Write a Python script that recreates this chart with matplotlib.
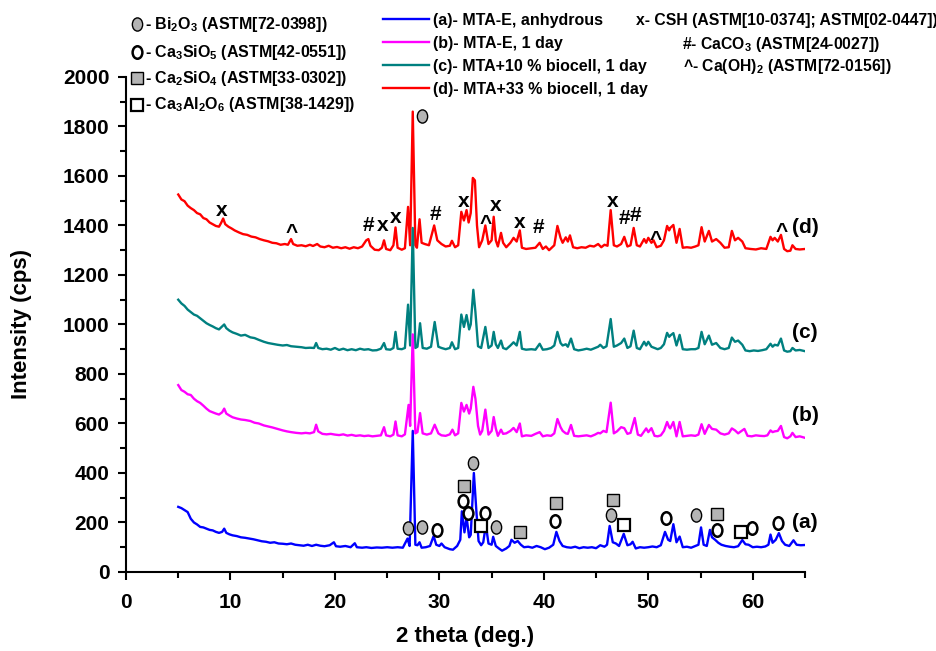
import matplotlib.pyplot as plt
import numpy as np
from matplotlib.lines import Line2D
from matplotlib.path import Path
from matplotlib.transforms import Affine2D

plt.rcParams['font.family'] = ['Liberation Sans', 'DejaVu Sans']
plt.rcParams['font.weight'] = 'bold'
plt.rcParams['mathtext.fontset'] = 'custom'
plt.rcParams['mathtext.rm'] = 'Liberation Sans:bold'
plt.rcParams['mathtext.default'] = 'rm'

# (2 theta, counts)
trace_d = [(5.0, 1525), (5.3, 1505), (5.6, 1498), (5.9, 1480), (6.2, 1470), (6.5, 1462), (6.8, 1450), (7.1, 1445),
           (7.4, 1430), (7.7, 1425), (8.0, 1412), (8.3, 1405), (8.6, 1398), (8.9, 1395), (9.1, 1410), (9.3, 1428),
           (9.5, 1405), (9.8, 1395), (10.1, 1388), (10.4, 1380), (10.8, 1372), (11.2, 1365), (11.6, 1362), (12.0, 1355),
           (12.4, 1352), (12.8, 1345), (13.2, 1340), (13.6, 1336), (14.0, 1330), (14.4, 1328), (14.8, 1322), (15.2, 1325),
           (15.5, 1322), (15.8, 1345), (16.0, 1325), (16.4, 1318), (16.8, 1320), (17.2, 1316), (17.6, 1322), (17.9, 1317),
           (18.3, 1325), (18.6, 1315), (19.0, 1312), (19.4, 1318), (19.8, 1310), (20.2, 1313), (20.6, 1308), (21.0, 1312),
           (21.4, 1306), (21.8, 1312), (22.2, 1308), (22.6, 1315), (23.0, 1340), (23.2, 1345), (23.4, 1318), (23.8, 1302),
           (24.2, 1300), (24.5, 1310), (24.7, 1340), (24.9, 1305), (25.3, 1300), (25.6, 1320), (25.8, 1392), (26.0, 1310),
           (26.4, 1302), (26.7, 1308), (27.0, 1475), (27.2, 1320), (27.45, 1860), (27.7, 1320), (27.85, 1310), (28.1, 1425),
           (28.3, 1330), (28.6, 1325), (29.0, 1320), (29.5, 1400), (29.8, 1340), (30.2, 1325), (30.6, 1315), (31.0, 1318),
           (31.2, 1338), (31.5, 1312), (31.8, 1320), (32.1, 1455), (32.35, 1420), (32.6, 1462), (32.8, 1412), (33.0, 1450),
           (33.2, 1592), (33.4, 1582), (33.6, 1400), (33.8, 1312), (34.1, 1340), (34.4, 1400), (34.7, 1325), (35.0, 1340),
           (35.2, 1435), (35.4, 1340), (35.6, 1315), (35.9, 1370), (36.1, 1330), (36.4, 1312), (36.8, 1330), (37.1, 1350),
           (37.4, 1335), (37.7, 1380), (37.9, 1310), (38.3, 1305), (38.8, 1308), (39.2, 1310), (39.6, 1330), (39.9, 1305),
           (40.2, 1315), (40.5, 1300), (41.0, 1320), (41.3, 1398), (41.6, 1350), (41.8, 1330), (42.1, 1352), (42.3, 1335),
           (42.5, 1360), (42.8, 1312), (43.2, 1308), (43.6, 1312), (44.0, 1310), (44.4, 1318), (44.8, 1315), (45.2, 1325),
           (45.5, 1312), (45.8, 1322), (46.1, 1318), (46.4, 1462), (46.7, 1320), (47.0, 1315), (47.4, 1325), (47.7, 1354),
           (48.0, 1315), (48.3, 1320), (48.6, 1390), (48.9, 1320), (49.2, 1315), (49.6, 1345), (49.8, 1330), (50.0, 1350),
           (50.3, 1330), (50.5, 1340), (50.8, 1312), (51.2, 1318), (51.5, 1340), (51.8, 1398), (52.0, 1380), (52.1, 1390),
           (52.4, 1402), (52.7, 1330), (53.0, 1386), (53.3, 1310), (53.7, 1312), (54.1, 1310), (54.5, 1315), (54.8, 1320),
           (55.1, 1393), (55.4, 1335), (55.8, 1378), (56.1, 1335), (56.5, 1345), (56.9, 1330), (57.3, 1310), (57.7, 1312),
           (58.0, 1378), (58.3, 1340), (58.6, 1350), (59.0, 1335), (59.3, 1308), (59.8, 1305), (60.3, 1303), (60.8, 1308),
           (61.3, 1305), (61.7, 1354), (61.9, 1340), (62.1, 1350), (62.4, 1335), (62.7, 1362), (63.0, 1305), (63.3, 1296),
           (63.6, 1298), (63.8, 1320), (64.1, 1305), (64.5, 1303), (65.0, 1305)]

trace_c = [(5.0, 1100), (5.3, 1085), (5.6, 1075), (5.9, 1060), (6.2, 1050), (6.5, 1040), (6.8, 1035), (7.1, 1025),
           (7.4, 1015), (7.7, 1005), (8.0, 998), (8.3, 992), (8.6, 985), (8.9, 980), (9.2, 992), (9.4, 1000), (9.6, 985),
           (9.9, 975), (10.2, 968), (10.6, 962), (11.0, 955), (11.4, 958), (11.9, 948), (12.3, 945), (12.7, 938),
           (13.2, 930), (13.6, 925), (14.0, 922), (14.5, 918), (15.0, 915), (15.4, 917), (15.8, 912), (16.3, 910),
           (16.8, 908), (17.2, 905), (17.6, 906), (18.0, 905), (18.2, 925), (18.4, 905), (18.8, 900), (19.2, 902),
           (19.6, 898), (20.0, 905), (20.4, 897), (20.8, 902), (21.2, 896), (21.6, 900), (22.0, 896), (22.4, 902),
           (22.8, 898), (23.2, 900), (23.6, 895), (24.0, 896), (24.4, 902), (24.7, 925), (24.9, 900), (25.3, 898),
           (25.6, 905), (25.8, 970), (26.0, 902), (26.4, 900), (26.7, 905), (27.0, 1080), (27.2, 915), (27.45, 1390),
           (27.7, 905), (27.9, 910), (28.15, 1005), (28.4, 905), (28.8, 902), (29.2, 910), (29.55, 1010), (29.9, 910),
           (30.2, 905), (30.6, 900), (31.0, 905), (31.2, 928), (31.5, 900), (31.8, 905), (32.1, 1040), (32.35, 990),
           (32.6, 1038), (32.85, 980), (33.0, 1000), (33.25, 1140), (33.45, 1050), (33.7, 912), (34.0, 905), (34.4, 990),
           (34.7, 905), (35.0, 915), (35.2, 970), (35.4, 920), (35.6, 905), (35.9, 935), (36.1, 905), (36.4, 900),
           (36.8, 915), (37.1, 928), (37.4, 915), (37.7, 970), (37.9, 902), (38.3, 898), (38.8, 900), (39.2, 898),
           (39.6, 922), (39.9, 898), (40.3, 900), (40.7, 905), (41.0, 915), (41.3, 970), (41.6, 925), (41.8, 915),
           (42.1, 920), (42.3, 910), (42.6, 943), (42.9, 900), (43.3, 895), (43.7, 898), (44.1, 902), (44.5, 898),
           (44.9, 905), (45.2, 910), (45.4, 918), (45.7, 905), (46.0, 912), (46.4, 1022), (46.7, 910), (47.0, 915),
           (47.4, 925), (47.7, 943), (48.0, 905), (48.3, 912), (48.6, 975), (48.9, 905), (49.2, 900), (49.6, 930),
           (49.8, 915), (50.0, 930), (50.3, 910), (50.6, 905), (50.9, 900), (51.2, 905), (51.5, 920), (51.8, 966),
           (52.0, 950), (52.1, 955), (52.4, 965), (52.7, 915), (53.0, 958), (53.3, 900), (53.7, 898), (54.1, 900),
           (54.5, 900), (54.8, 905), (55.1, 970), (55.4, 920), (55.8, 955), (56.1, 918), (56.5, 925), (56.9, 905),
           (57.3, 900), (57.7, 905), (58.0, 947), (58.3, 930), (58.6, 935), (59.0, 918), (59.3, 895), (59.7, 892),
           (60.1, 895), (60.5, 893), (60.9, 896), (61.3, 900), (61.7, 922), (61.9, 910), (62.1, 918), (62.4, 915),
           (62.7, 943), (63.0, 895), (63.3, 890), (63.6, 892), (63.8, 905), (64.1, 895), (64.5, 897), (65.0, 892)]

trace_b = [(5.0, 755), (5.3, 735), (5.6, 728), (5.9, 718), (6.2, 715), (6.5, 700), (6.8, 690), (7.1, 683), (7.4, 672),
           (7.7, 660), (8.0, 650), (8.3, 645), (8.6, 640), (8.9, 636), (9.2, 645), (9.4, 660), (9.6, 640), (9.9, 632),
           (10.2, 625), (10.6, 620), (11.0, 616), (11.4, 614), (11.9, 610), (12.3, 603), (12.7, 600), (13.2, 592),
           (13.6, 588), (14.0, 584), (14.5, 578), (15.0, 572), (15.4, 568), (15.8, 565), (16.3, 562), (16.8, 560),
           (17.2, 562), (17.6, 560), (18.0, 565), (18.2, 595), (18.4, 568), (18.8, 558), (19.2, 556), (19.6, 558),
           (20.0, 555), (20.4, 553), (20.8, 556), (21.2, 551), (21.6, 554), (22.0, 550), (22.4, 552), (22.8, 549),
           (23.2, 551), (23.6, 548), (24.0, 550), (24.4, 552), (24.7, 585), (24.9, 552), (25.3, 548), (25.6, 555),
           (25.8, 608), (26.0, 552), (26.4, 548), (26.7, 556), (27.05, 675), (27.2, 590), (27.45, 960), (27.7, 560),
           (27.9, 565), (28.15, 642), (28.4, 560), (28.8, 555), (29.2, 560), (29.55, 595), (29.9, 560), (30.2, 552),
           (30.6, 550), (31.0, 556), (31.25, 575), (31.5, 552), (31.8, 560), (32.1, 683), (32.35, 648), (32.6, 675),
           (32.85, 640), (33.0, 660), (33.25, 748), (33.45, 700), (33.7, 590), (33.9, 555), (34.1, 570), (34.4, 656),
           (34.7, 555), (35.0, 570), (35.2, 626), (35.4, 580), (35.6, 550), (35.9, 575), (36.1, 558), (36.4, 560),
           (36.8, 570), (37.1, 582), (37.4, 565), (37.7, 600), (37.9, 548), (38.3, 552), (38.8, 550), (39.2, 558),
           (39.6, 565), (39.9, 548), (40.3, 552), (40.7, 550), (41.0, 560), (41.3, 618), (41.6, 585), (41.8, 570),
           (42.1, 560), (42.3, 558), (42.6, 594), (42.9, 550), (43.3, 548), (43.7, 550), (44.1, 552), (44.5, 548),
           (44.9, 555), (45.2, 562), (45.4, 560), (45.7, 570), (46.0, 565), (46.4, 684), (46.7, 560), (47.0, 568),
           (47.4, 585), (47.7, 581), (48.0, 558), (48.3, 562), (48.7, 622), (49.0, 555), (49.3, 550), (49.8, 580),
           (50.0, 565), (50.3, 581), (50.6, 550), (50.9, 548), (51.2, 552), (51.5, 570), (51.8, 606), (52.0, 585),
           (52.1, 580), (52.4, 606), (52.7, 548), (53.0, 606), (53.3, 548), (53.7, 550), (54.1, 552), (54.5, 550),
           (54.8, 555), (55.1, 597), (55.4, 558), (55.8, 594), (56.1, 578), (56.5, 575), (56.9, 560), (57.3, 555),
           (57.7, 560), (58.0, 580), (58.3, 572), (58.6, 560), (59.2, 578), (59.5, 550), (59.9, 548), (60.3, 552),
           (60.7, 550), (61.1, 549), (61.4, 552), (61.7, 572), (61.9, 565), (62.1, 568), (62.4, 570), (62.7, 590),
           (63.0, 545), (63.3, 540), (63.6, 548), (63.8, 562), (64.1, 545), (64.5, 548), (65.0, 542)]

trace_a = [(5.0, 263), (5.3, 258), (5.6, 250), (5.9, 242), (6.2, 215), (6.5, 200), (6.8, 192), (7.1, 182), (7.4, 180),
           (7.7, 175), (8.0, 170), (8.3, 168), (8.6, 162), (8.9, 158), (9.2, 162), (9.4, 175), (9.6, 158), (9.9, 152),
           (10.2, 148), (10.6, 145), (11.0, 140), (11.4, 138), (11.8, 135), (12.2, 132), (12.6, 128), (13.0, 124),
           (13.4, 122), (13.8, 118), (14.2, 120), (14.6, 115), (15.0, 114), (15.4, 112), (15.8, 115), (16.2, 110),
           (16.6, 108), (17.0, 106), (17.4, 110), (17.8, 105), (18.2, 110), (18.6, 106), (19.0, 104), (19.5, 108),
           (19.9, 120), (20.1, 104), (20.5, 102), (21.0, 105), (21.5, 100), (21.9, 116), (22.1, 100), (22.6, 98),
           (23.0, 100), (23.5, 97), (24.0, 99), (24.5, 98), (25.0, 100), (25.5, 98), (26.0, 100), (26.5, 98),
           (26.95, 135), (27.15, 105), (27.45, 570), (27.7, 110), (27.9, 108), (28.1, 120), (28.3, 98), (28.7, 100),
           (29.1, 105), (29.45, 145), (29.7, 110), (30.0, 105), (30.2, 115), (30.5, 100), (31.0, 92), (31.3, 90),
           (31.7, 105), (32.0, 130), (32.15, 245), (32.4, 160), (32.6, 222), (32.85, 140), (33.0, 150), (33.3, 400),
           (33.55, 240), (33.75, 125), (34.0, 108), (34.2, 120), (34.45, 190), (34.7, 115), (35.0, 110), (35.15, 142),
           (35.4, 105), (35.7, 95), (36.0, 86), (36.4, 95), (36.7, 105), (36.9, 130), (37.2, 118), (37.5, 125),
           (37.8, 110), (38.1, 100), (38.5, 102), (38.9, 98), (39.3, 105), (39.7, 100), (40.1, 92), (40.5, 98),
           (40.9, 110), (41.2, 162), (41.5, 125), (41.8, 105), (42.2, 100), (42.6, 98), (43.0, 102), (43.4, 96),
           (43.8, 100), (44.2, 98), (44.6, 100), (45.0, 96), (45.4, 108), (45.8, 102), (46.05, 110), (46.3, 186),
           (46.6, 120), (46.9, 115), (47.2, 105), (47.65, 154), (48.0, 108), (48.3, 112), (48.5, 122), (48.8, 95),
           (49.2, 100), (49.6, 98), (50.0, 100), (50.4, 103), (50.8, 100), (51.2, 108), (51.6, 162), (51.9, 130),
           (52.1, 125), (52.4, 193), (52.7, 120), (53.0, 143), (53.3, 100), (53.7, 102), (54.1, 98), (54.5, 105),
           (54.8, 110), (55.05, 180), (55.3, 110), (55.6, 105), (55.9, 170), (56.1, 140), (56.4, 130), (56.7, 118),
           (57.0, 110), (57.4, 105), (57.8, 102), (58.2, 100), (58.6, 104), (59.0, 129), (59.3, 112), (59.6, 110),
           (60.0, 100), (60.4, 102), (60.8, 100), (61.2, 103), (61.5, 110), (61.7, 151), (61.9, 118), (62.2, 130),
           (62.5, 157), (62.8, 125), (63.1, 110), (63.5, 105), (63.9, 128), (64.2, 110), (64.6, 108), (65.0, 109)]

series_labels = ['(a)- MTA-E, anhydrous', '(b)- MTA-E, 1 day',
                 '(c)- MTA+10 % biocell, 1 day', '(d)- MTA+33 % biocell, 1 day']
series_colors = ['#0000ff', '#ff00ff', '#008080', '#ff0000']

# phase markers (2 theta, counts)
bi2o3_pts = [(27.0, 178), (28.3, 182), (33.2, 440), (35.4, 182), (46.4, 230), (54.6, 230), (28.3, 1842)]
c3s_pts = [(29.8, 170), (32.3, 287), (32.7, 238), (34.4, 238), (41.1, 206), (51.7, 218), (56.6, 170),
           (59.9, 178), (62.4, 198)]
c2s_pts = [(32.4, 347), (37.7, 162), (41.2, 279), (46.6, 291), (56.6, 234)]
c3a_pts = [(34.0, 186), (47.7, 190), (58.9, 162)]
csh_pts = [(9.2, 1462), (24.6, 1398), (25.8, 1434), (32.3, 1495), (35.4, 1479), (37.7, 1410), (46.6, 1495)]
caco3_pts = [(23.2, 1398), (29.6, 1446), (39.5, 1390), (47.7, 1430), (48.8, 1442)]
caoh2_pts = [(15.9, 1398), (34.4, 1434), (50.7, 1370), (62.8, 1402)]

curve_tags = ['(a)', '(b)', '(c)', '(d)']
curve_tag_y = [198, 634, 966, 1390]

oval = Path.unit_circle().transformed(Affine2D().scale(0.78, 1.0))

fig = plt.figure(figsize=(9.37, 6.51), dpi=100)
ax = fig.add_axes([0.1345, 0.1214, 0.7246, 0.7604])

traces = [trace_a, trace_b, trace_c, trace_d]
lines = []
# draw (d) first so (a) sits on top
for i in [3, 2, 1, 0]:
    xy = np.array(traces[i])
    ln, = ax.plot(xy[:, 0], xy[:, 1], color=series_colors[i], lw=1.7, zorder=2 + (3 - i))
    lines.append((i, ln))
lines = [ln for i, ln in sorted(lines)]

gray = '#b4b4b4'
def mark(pts, marker, face, mew, ms):
    p = np.array(pts)
    ax.plot(p[:, 0], p[:, 1], ls='none', marker=marker, ms=ms, mfc=face, mec='black',
            mew=mew, clip_on=False, zorder=10)

mark(bi2o3_pts, oval, gray, 1.0, 9.5)
mark(c3s_pts, oval, 'white', 1.8, 9)
mark(c2s_pts, 's', gray, 1.0, 8)
mark(c3a_pts, 's', 'white', 1.6, 8)

for sym, pts, dy in [('x', csh_pts, 0), ('#', caco3_pts, 0), ('^', caoh2_pts, -25)]:
    for x, y in pts:
        ax.text(x, y + dy, sym, ha='center', va='center', fontsize=15, fontweight='bold', zorder=11)

for tag, y in zip(curve_tags, curve_tag_y):
    ax.text(63.8, y, tag, ha='left', va='center', fontsize=15, fontweight='bold', clip_on=False)

ax.set_xlim(0, 65)
ax.set_ylim(0, 2000)
ax.set_xticks(np.arange(0, 61, 10))
ax.set_xticks(np.arange(5, 66, 10), minor=True)
ax.set_yticks(np.arange(0, 2001, 200))
ax.set_yticks(np.arange(100, 2000, 200), minor=True)
ax.spines['top'].set_visible(False)
ax.spines['right'].set_visible(False)
for s in ['left', 'bottom']:
    ax.spines[s].set_linewidth(1.5)
ax.tick_params(which='major', direction='out', length=6, width=1.5, labelsize=15)
ax.tick_params(axis='x', which='major', pad=9)
ax.tick_params(axis='y', which='major', pad=6)
ax.tick_params(which='minor', direction='out', length=4, width=1.5)
for lab in ax.get_xticklabels() + ax.get_yticklabels():
    lab.set_fontweight('bold')
ax.set_xlabel('2 theta (deg.)', fontsize=16, fontweight='bold', labelpad=10)
ax.set_ylabel('Intensity (cps)', fontsize=16, fontweight='bold', labelpad=22)

fig.legend(lines, series_labels, loc='upper left', bbox_to_anchor=(383 / 937, 1 - 13 / 651),
           frameon=False, handlelength=2.9, handletextpad=0.2, labelspacing=0.5,
           borderaxespad=0, borderpad=0, prop={'weight': 'bold', 'size': 11.5})

# phase key, top left
key_rows = [(oval, gray, 1.0, 9.5, 'Bi$_2$O$_3$ (ASTM[72-0398])', 24),
            (oval, 'white', 1.8, 9, 'Ca$_3$SiO$_5$ (ASTM[42-0551])', 52),
            ('s', gray, 1.0, 8, 'Ca$_2$SiO$_4$ (ASTM[33-0302])', 78),
            ('s', 'white', 1.6, 8, 'Ca$_3$Al$_2$O$_6$ (ASTM[38-1429])', 105)]
for marker, face, mew, ms, txt, ypx in key_rows:
    fy = 1 - ypx / 651
    fig.add_artist(Line2D([137 / 937], [fy], ls='none', marker=marker, ms=ms, mfc=face, mec='black',
                          mew=mew, transform=fig.transFigure))
    fig.text(145 / 937, fy, '- ' + txt, ha='left', va='center', fontsize=11.5, fontweight='bold')

fig.text(636 / 937, 1 - 21 / 651, 'x- CSH (ASTM[10-0374]; ASTM[02-0447])', ha='left', va='center',
         fontsize=11.3, fontweight='bold')
fig.text(682 / 937, 1 - 44 / 651, '#- CaCO$_3$ (ASTM[24-0027])', ha='left', va='center',
         fontsize=11.3, fontweight='bold')
fig.text(683 / 937, 1 - 66 / 651, '^- Ca(OH)$_2$ (ASTM[72-0156])', ha='left', va='center',
         fontsize=11.3, fontweight='bold')

fig.savefig('out.png', dpi=100)
